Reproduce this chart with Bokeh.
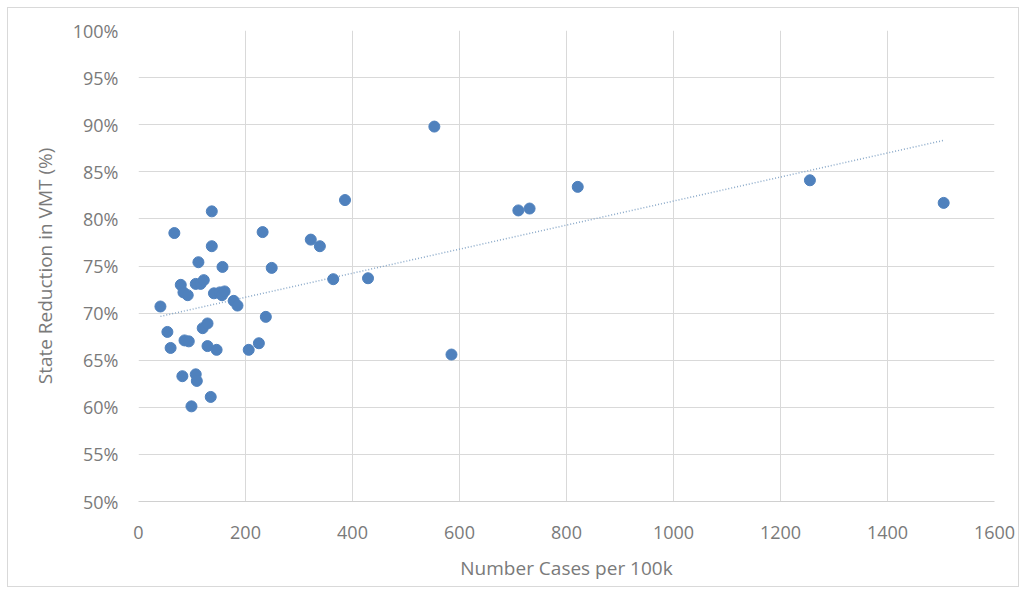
import numpy as np
from bokeh.plotting import figure
from bokeh.models import ColumnDataSource, NumeralTickFormatter, FixedTicker, Range1d
from bokeh.embed import file_html
from bokeh.resources import INLINE

cases_per_100k = [41, 67, 54, 60, 79, 84, 92, 82, 86, 94, 99, 107, 107, 109, 112, 116, 122,
                  120, 129, 129, 137, 137, 135, 141, 146, 152, 156, 157, 161, 178, 185,
                  232, 238, 206, 225, 249, 322, 339, 386, 364, 429, 553, 585, 710, 731,
                  821, 1255, 1505]
vmt_reduction = [0.707, 0.785, 0.680, 0.663, 0.730, 0.722, 0.719, 0.633, 0.671, 0.670,
                 0.601, 0.731, 0.635, 0.628, 0.754, 0.731, 0.735, 0.684, 0.689, 0.665,
                 0.808, 0.771, 0.611, 0.721, 0.661, 0.722, 0.719, 0.749, 0.723, 0.713,
                 0.708, 0.786, 0.696, 0.661, 0.668, 0.748, 0.778, 0.771, 0.820, 0.736,
                 0.737, 0.898, 0.656, 0.809, 0.811, 0.834, 0.841, 0.817]

x_ticks = [0, 200, 400, 600, 800, 1000, 1200, 1400, 1600]
y_ticks = [0.50, 0.55, 0.60, 0.65, 0.70, 0.75, 0.80, 0.85, 0.90, 0.95, 1.00]

# linear trendline fitted to the data
slope, intercept = np.polyfit(cases_per_100k, vmt_reduction, 1)
tx = [min(cases_per_100k), max(cases_per_100k)]
ty = [slope * v + intercept for v in tx]

p = figure(width=1012, height=580, output_backend="svg", toolbar_location=None,
           x_range=Range1d(0, 1600), y_range=Range1d(0.5, 1.0),
           min_border_left=130, min_border_right=26, min_border_top=22, min_border_bottom=87)
p.styles = {"border": "1px solid #d9d9d9", "margin-left": "7px", "margin-top": "7px"}

src = ColumnDataSource(dict(x=cases_per_100k, y=vmt_reduction))
p.line(tx, ty, line_color="#8aa9c9", line_width=1.5, line_dash="1 2")
p.scatter("x", "y", source=src, size=11, fill_color="#4f81bd", line_color="#4f81bd")

p.outline_line_color = None
p.background_fill_color = "white"
p.border_fill_color = "white"

for ax in (p.xaxis[0], p.yaxis[0]):
    ax.major_tick_line_color = None
    ax.minor_tick_line_color = None
    ax.major_label_text_font = "Open Sans"
    ax.major_label_text_font_size = "18px"
    ax.major_label_text_color = "#7a7a7a"
    ax.axis_label_text_font = "Open Sans"
    ax.axis_label_text_font_size = "19px"
    ax.axis_label_text_color = "#7a7a7a"
    ax.axis_label_text_font_style = "normal"

p.xaxis.ticker = FixedTicker(ticks=x_ticks)
p.yaxis.ticker = FixedTicker(ticks=y_ticks)
p.yaxis.formatter = NumeralTickFormatter(format="0%")
p.xaxis.axis_line_color = "#d0d0d0"
p.yaxis.axis_line_color = None
p.xaxis.major_label_standoff = 18
p.yaxis.major_label_standoff = 14
p.xaxis.axis_label = "Number Cases per 100k"
p.yaxis.axis_label = "State Reduction in VMT (%)"
p.xaxis.axis_label_standoff = 13
p.yaxis.axis_label_standoff = 12

p.xgrid.ticker = FixedTicker(ticks=x_ticks)
p.ygrid.ticker = FixedTicker(ticks=y_ticks)
p.grid.grid_line_color = "#d9d9d9"
p.grid.grid_line_width = 1

open("out.html", "w").write(file_html(p, INLINE))
